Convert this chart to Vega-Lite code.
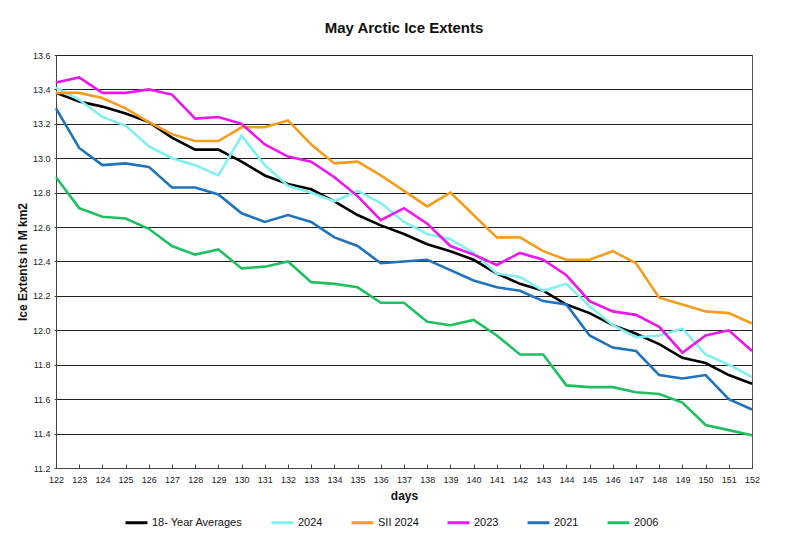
{
  "$schema": "https://vega.github.io/schema/vega-lite/v6.json",
  "width": 696,
  "height": 413,
  "autosize": "none",
  "padding": {"left": 56, "top": 55, "right": 37, "bottom": 71},
  "background": "white",
  "config": {
    "font": "Liberation Sans",
    "view": {"stroke": "#555", "strokeWidth": 1}
  },
  "title": {"text": "May Arctic Ice Extents", "fontSize": 15, "fontWeight": "bold", "color": "#111", "anchor": "middle", "frame": "group", "offset": 15},
  "data": {"values": [
    {"d":122,"s":"18- Year Averages","v":13.38},{"d":123,"s":"18- Year Averages","v":13.33},{"d":124,"s":"18- Year Averages","v":13.30},{"d":125,"s":"18- Year Averages","v":13.26},{"d":126,"s":"18- Year Averages","v":13.21},{"d":127,"s":"18- Year Averages","v":13.12},{"d":128,"s":"18- Year Averages","v":13.05},{"d":129,"s":"18- Year Averages","v":13.05},{"d":130,"s":"18- Year Averages","v":12.98},{"d":131,"s":"18- Year Averages","v":12.90},{"d":132,"s":"18- Year Averages","v":12.85},{"d":133,"s":"18- Year Averages","v":12.82},{"d":134,"s":"18- Year Averages","v":12.75},{"d":135,"s":"18- Year Averages","v":12.67},{"d":136,"s":"18- Year Averages","v":12.61},{"d":137,"s":"18- Year Averages","v":12.56},{"d":138,"s":"18- Year Averages","v":12.50},{"d":139,"s":"18- Year Averages","v":12.46},{"d":140,"s":"18- Year Averages","v":12.41},{"d":141,"s":"18- Year Averages","v":12.33},{"d":142,"s":"18- Year Averages","v":12.27},{"d":143,"s":"18- Year Averages","v":12.23},{"d":144,"s":"18- Year Averages","v":12.15},{"d":145,"s":"18- Year Averages","v":12.10},{"d":146,"s":"18- Year Averages","v":12.03},{"d":147,"s":"18- Year Averages","v":11.98},{"d":148,"s":"18- Year Averages","v":11.92},{"d":149,"s":"18- Year Averages","v":11.84},{"d":150,"s":"18- Year Averages","v":11.81},{"d":151,"s":"18- Year Averages","v":11.74},{"d":152,"s":"18- Year Averages","v":11.69},
    {"d":122,"s":"2024","v":13.41},{"d":123,"s":"2024","v":13.34},{"d":124,"s":"2024","v":13.24},{"d":125,"s":"2024","v":13.19},{"d":126,"s":"2024","v":13.07},{"d":127,"s":"2024","v":13.00},{"d":128,"s":"2024","v":12.96},{"d":129,"s":"2024","v":12.90},{"d":130,"s":"2024","v":13.13},{"d":131,"s":"2024","v":12.96},{"d":132,"s":"2024","v":12.84},{"d":133,"s":"2024","v":12.80},{"d":134,"s":"2024","v":12.75},{"d":135,"s":"2024","v":12.81},{"d":136,"s":"2024","v":12.74},{"d":137,"s":"2024","v":12.63},{"d":138,"s":"2024","v":12.56},{"d":139,"s":"2024","v":12.53},{"d":140,"s":"2024","v":12.45},{"d":141,"s":"2024","v":12.33},{"d":142,"s":"2024","v":12.31},{"d":143,"s":"2024","v":12.23},{"d":144,"s":"2024","v":12.27},{"d":145,"s":"2024","v":12.14},{"d":146,"s":"2024","v":12.03},{"d":147,"s":"2024","v":11.96},{"d":148,"s":"2024","v":11.97},{"d":149,"s":"2024","v":12.01},{"d":150,"s":"2024","v":11.86},{"d":151,"s":"2024","v":11.80},{"d":152,"s":"2024","v":11.73},
    {"d":122,"s":"SII 2024","v":13.38},{"d":123,"s":"SII 2024","v":13.38},{"d":124,"s":"SII 2024","v":13.35},{"d":125,"s":"SII 2024","v":13.29},{"d":126,"s":"SII 2024","v":13.21},{"d":127,"s":"SII 2024","v":13.14},{"d":128,"s":"SII 2024","v":13.10},{"d":129,"s":"SII 2024","v":13.10},{"d":130,"s":"SII 2024","v":13.18},{"d":131,"s":"SII 2024","v":13.18},{"d":132,"s":"SII 2024","v":13.22},{"d":133,"s":"SII 2024","v":13.08},{"d":134,"s":"SII 2024","v":12.97},{"d":135,"s":"SII 2024","v":12.98},{"d":136,"s":"SII 2024","v":12.90},{"d":137,"s":"SII 2024","v":12.81},{"d":138,"s":"SII 2024","v":12.72},{"d":139,"s":"SII 2024","v":12.80},{"d":140,"s":"SII 2024","v":12.67},{"d":141,"s":"SII 2024","v":12.54},{"d":142,"s":"SII 2024","v":12.54},{"d":143,"s":"SII 2024","v":12.46},{"d":144,"s":"SII 2024","v":12.41},{"d":145,"s":"SII 2024","v":12.41},{"d":146,"s":"SII 2024","v":12.46},{"d":147,"s":"SII 2024","v":12.39},{"d":148,"s":"SII 2024","v":12.19},{"d":149,"s":"SII 2024","v":12.15},{"d":150,"s":"SII 2024","v":12.11},{"d":151,"s":"SII 2024","v":12.10},{"d":152,"s":"SII 2024","v":12.04},
    {"d":122,"s":"2023","v":13.44},{"d":123,"s":"2023","v":13.47},{"d":124,"s":"2023","v":13.38},{"d":125,"s":"2023","v":13.38},{"d":126,"s":"2023","v":13.40},{"d":127,"s":"2023","v":13.37},{"d":128,"s":"2023","v":13.23},{"d":129,"s":"2023","v":13.24},{"d":130,"s":"2023","v":13.20},{"d":131,"s":"2023","v":13.08},{"d":132,"s":"2023","v":13.01},{"d":133,"s":"2023","v":12.98},{"d":134,"s":"2023","v":12.89},{"d":135,"s":"2023","v":12.78},{"d":136,"s":"2023","v":12.64},{"d":137,"s":"2023","v":12.71},{"d":138,"s":"2023","v":12.62},{"d":139,"s":"2023","v":12.49},{"d":140,"s":"2023","v":12.44},{"d":141,"s":"2023","v":12.38},{"d":142,"s":"2023","v":12.45},{"d":143,"s":"2023","v":12.41},{"d":144,"s":"2023","v":12.32},{"d":145,"s":"2023","v":12.17},{"d":146,"s":"2023","v":12.11},{"d":147,"s":"2023","v":12.09},{"d":148,"s":"2023","v":12.02},{"d":149,"s":"2023","v":11.87},{"d":150,"s":"2023","v":11.97},{"d":151,"s":"2023","v":12.00},{"d":152,"s":"2023","v":11.88},
    {"d":122,"s":"2021","v":13.29},{"d":123,"s":"2021","v":13.06},{"d":124,"s":"2021","v":12.96},{"d":125,"s":"2021","v":12.97},{"d":126,"s":"2021","v":12.95},{"d":127,"s":"2021","v":12.83},{"d":128,"s":"2021","v":12.83},{"d":129,"s":"2021","v":12.79},{"d":130,"s":"2021","v":12.68},{"d":131,"s":"2021","v":12.63},{"d":132,"s":"2021","v":12.67},{"d":133,"s":"2021","v":12.63},{"d":134,"s":"2021","v":12.54},{"d":135,"s":"2021","v":12.49},{"d":136,"s":"2021","v":12.39},{"d":137,"s":"2021","v":12.40},{"d":138,"s":"2021","v":12.41},{"d":139,"s":"2021","v":12.35},{"d":140,"s":"2021","v":12.29},{"d":141,"s":"2021","v":12.25},{"d":142,"s":"2021","v":12.23},{"d":143,"s":"2021","v":12.17},{"d":144,"s":"2021","v":12.15},{"d":145,"s":"2021","v":11.97},{"d":146,"s":"2021","v":11.90},{"d":147,"s":"2021","v":11.88},{"d":148,"s":"2021","v":11.74},{"d":149,"s":"2021","v":11.72},{"d":150,"s":"2021","v":11.74},{"d":151,"s":"2021","v":11.60},{"d":152,"s":"2021","v":11.54},
    {"d":122,"s":"2006","v":12.89},{"d":123,"s":"2006","v":12.71},{"d":124,"s":"2006","v":12.66},{"d":125,"s":"2006","v":12.65},{"d":126,"s":"2006","v":12.59},{"d":127,"s":"2006","v":12.49},{"d":128,"s":"2006","v":12.44},{"d":129,"s":"2006","v":12.47},{"d":130,"s":"2006","v":12.36},{"d":131,"s":"2006","v":12.37},{"d":132,"s":"2006","v":12.40},{"d":133,"s":"2006","v":12.28},{"d":134,"s":"2006","v":12.27},{"d":135,"s":"2006","v":12.25},{"d":136,"s":"2006","v":12.16},{"d":137,"s":"2006","v":12.16},{"d":138,"s":"2006","v":12.05},{"d":139,"s":"2006","v":12.03},{"d":140,"s":"2006","v":12.06},{"d":141,"s":"2006","v":11.97},{"d":142,"s":"2006","v":11.86},{"d":143,"s":"2006","v":11.86},{"d":144,"s":"2006","v":11.68},{"d":145,"s":"2006","v":11.67},{"d":146,"s":"2006","v":11.67},{"d":147,"s":"2006","v":11.64},{"d":148,"s":"2006","v":11.63},{"d":149,"s":"2006","v":11.58},{"d":150,"s":"2006","v":11.45},{"d":151,"s":"2006","v":11.42},{"d":152,"s":"2006","v":11.39}
  ]},
  "mark": {"type": "line", "strokeWidth": 2.6},
  "encoding": {
    "x": {
      "field": "d", "type": "quantitative",
      "scale": {"domain": [122, 152], "nice": false, "zero": false},
      "axis": {
        "title": "days", "titleFontSize": 12, "titleFontWeight": "bold", "titleColor": "#111", "titlePadding": 6,
        "values": [122,123,124,125,126,127,128,129,130,131,132,133,134,135,136,137,138,139,140,141,142,143,144,145,146,147,148,149,150,151,152],
        "format": "d", "labelFontSize": 9, "labelColor": "#222", "labelFlush": false,
        "tickSize": -4, "tickColor": "#444", "labelPadding": 11,
        "grid": false, "domainColor": "#444"
      }
    },
    "y": {
      "field": "v", "type": "quantitative",
      "scale": {"domain": [11.2, 13.6], "nice": false, "zero": false},
      "axis": {
        "title": "Ice Extents in M km2", "titleFontSize": 12, "titleFontWeight": "bold", "titleColor": "#111", "titlePadding": 3,
        "values": [11.2,11.4,11.6,11.8,12.0,12.2,12.4,12.6,12.8,13.0,13.2,13.4,13.6],
        "format": ".1f", "labelFontSize": 9, "labelColor": "#222", "labelFlush": false,
        "tickSize": 2, "tickColor": "#444", "labelPadding": 4,
        "grid": true, "gridColor": "#222", "gridWidth": 1, "domainColor": "#444"
      }
    },
    "color": {
      "field": "s", "type": "nominal",
      "scale": {
        "domain": ["18- Year Averages", "2024", "SII 2024", "2023", "2021", "2006"],
        "range": ["#000000", "#80F0F0", "#F59D1E", "#EE16EE", "#1F72BC", "#20C060"]
      },
      "legend": {
        "title": null, "orient": "none", "direction": "horizontal",
        "legendX": 68, "legendY": 455,
        "symbolType": "stroke", "symbolSize": 480, "symbolStrokeWidth": 3,
        "labelFontSize": 11, "labelColor": "#111", "labelOffset": 3,
        "columnPadding": 22, "labelLimit": 200
      }
    }
  }
}
